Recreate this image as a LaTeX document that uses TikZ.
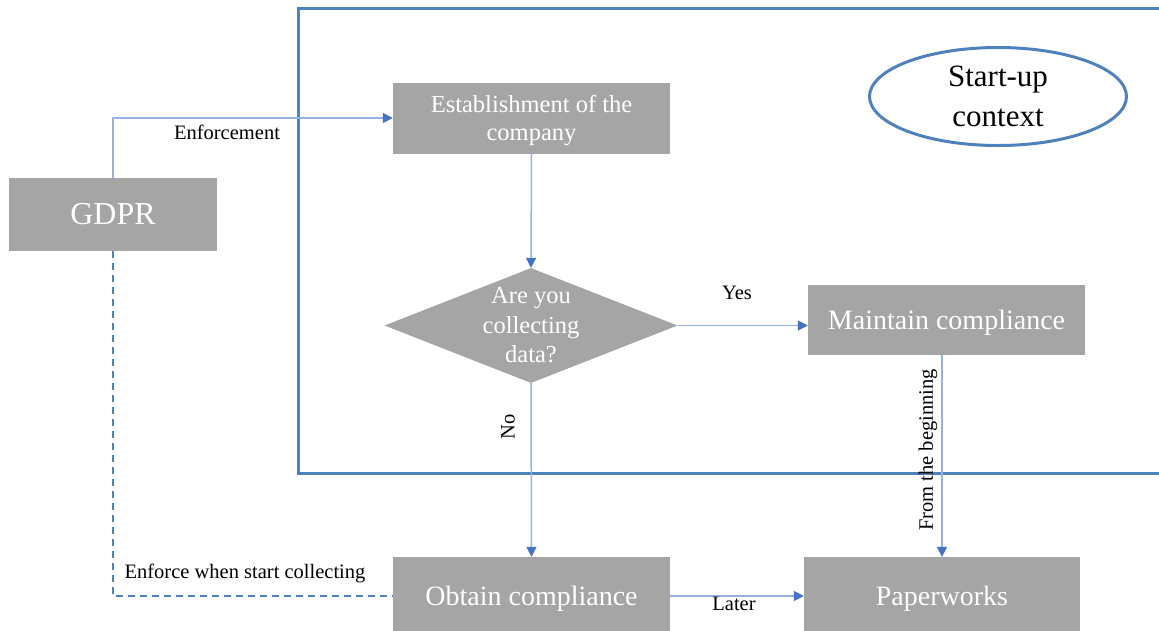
\documentclass[tikz,border=0pt]{standalone}
\usepackage{fontspec}
\setmainfont{Liberation Serif}
\usetikzlibrary{arrows.meta,shapes.geometric,calc}
\definecolor{boxgray}{HTML}{A5A5A5}
\definecolor{frameblue}{HTML}{4F81BD}
\definecolor{linkblue}{HTML}{95B3DE}
\definecolor{tipblue}{HTML}{4472C4}
\begin{document}
\begin{tikzpicture}[x=1pt,y=-1pt,
  graybox/.style={rectangle, fill=boxgray, draw=none, inner sep=0pt, text=white, align=center},
  link/.style={draw=linkblue, line width=1.5pt, -{Triangle[length=10pt,width=10pt,color=tipblue]}},
  dashlink/.style={draw=frameblue, line width=2.8pt, dash pattern=on 7pt off 5pt},
  lbl/.style={inner sep=0pt, font=\fontsize{20.5}{24}\selectfont}
]
\useasboundingbox (0,0) rectangle (1159,630);
% frame
\coordinate (fA) at (1159,8);
\coordinate (fB) at (298,8);
\coordinate (fC) at (298,473);
\coordinate (fD) at (1159,473);
\draw[frameblue, line width=3pt] (fA) -- (fB) -- (fC) -- (fD);
% nodes
\node[graybox, minimum width=208pt, minimum height=73pt, font=\fontsize{32}{38}\selectfont] (gdpr) at (113,214.5) {GDPR};
\node[graybox, minimum width=277pt, minimum height=71pt, text depth=0pt, font=\fontsize{24.5}{28.5}\selectfont] (est) at (531.5,118) {Establishment of the\\company};
\node[diamond, fill=boxgray, draw=none, inner sep=0pt, minimum width=293pt, minimum height=115pt] (dia) at (531,325.5) {};
\node[inner sep=0pt, text=white, align=center, font=\fontsize{24.5}{29.5}\selectfont] (diatext) at (dia.center) {Are you\\collecting\\data?};
\node[graybox, minimum width=277pt, minimum height=70pt, text depth=0pt, font=\fontsize{28}{32}\selectfont] (maint) at (946.5,320) {Maintain compliance};
\node[graybox, minimum width=277pt, minimum height=78pt, text depth=0pt, font=\fontsize{28}{32}\selectfont] (obt) at (531.5,596) {Obtain compliance};
\node[graybox, minimum width=276pt, minimum height=78pt, text depth=0pt, font=\fontsize{28}{32}\selectfont] (pap) at (942,596) {Paperworks};
\node[ellipse, draw=frameblue, line width=3pt, minimum width=257pt, minimum height=98pt, inner sep=0pt] (ell) at (998,96.5) {};
\node[inner sep=0pt, align=center, font=\fontsize{31}{40}\selectfont] (elltext) at (ell.center) {Start-up\\context};
% connectors
\draw[link] (gdpr.north) |- (est.west);
\draw[link] (est.south) -- (dia.north);
\draw[link] (dia.east) -- (dia.east -| maint.west);
\draw[link] (dia.south) -- (obt.north);
\draw[link] (pap.north |- maint.south) -- (pap.north);
\draw[link] (obt.east) -- (pap.west);
\draw[dashlink] (gdpr.south) |- (obt.west);
% labels
\node[lbl, anchor=base] (l1) at (227,139) {Enforcement};
\node[lbl, anchor=base] (l2) at (737,299) {Yes};
\node[lbl, rotate=90] (l3) at (508,427) {No};
\node[lbl, rotate=90] (l4) at (928,450) {From the beginning};
\node[lbl, anchor=base] (l5) at (245,578) {Enforce when start collecting};
\node[lbl, anchor=base] (l6) at (734,610) {Later};
\end{tikzpicture}
\end{document}
